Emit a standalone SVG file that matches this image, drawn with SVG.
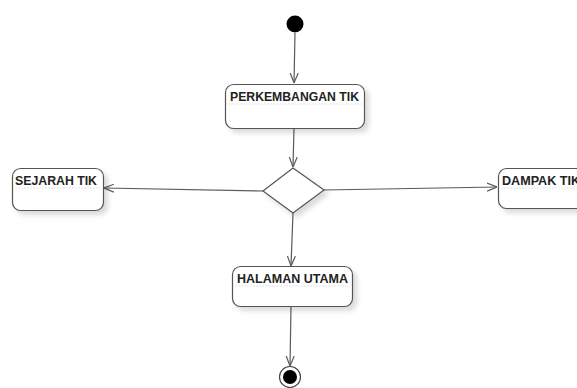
<svg xmlns="http://www.w3.org/2000/svg" width="577" height="388" viewBox="0 0 577 388">
  <style>
    .box { fill: #ffffff; stroke: #555555; stroke-width: 1.2; filter: url(#shadow); }
    .lbl { font-family: "Liberation Sans", Arial, sans-serif; font-size: 13.5px; font-weight: bold; fill: #222222; }
    .sep { stroke: #e4e4e4; stroke-width: 1; stroke-dasharray: 2 1; }
    .edge { fill: none; stroke: #5a5a5a; stroke-width: 1.2; marker-end: url(#open); }
    .dot { fill: #000000; }
  </style>
  <defs>
    <filter id="shadow" x="-20%" y="-20%" width="150%" height="160%">
      <feDropShadow dx="4" dy="4" stdDeviation="2.5" flood-color="#000000" flood-opacity="0.14"/>
    </filter>
    <marker id="open" viewBox="0 0 10 10" refX="10" refY="5" markerWidth="10" markerHeight="10" markerUnits="userSpaceOnUse" orient="auto">
      <path d="M0,1 L10,5 L0,9" fill="none" stroke="#5a5a5a" stroke-width="1.2"/>
    </marker>
  </defs>

  <g id="connectors">
    <line class="edge" x1="295" y1="33" x2="294" y2="83"/>
    <line class="edge" x1="294" y1="128" x2="293" y2="167"/>
    <line class="edge" x1="263" y1="191" x2="104" y2="188"/>
    <line class="edge" x1="324" y1="190" x2="497" y2="187"/>
    <line class="edge" x1="293" y1="213" x2="291" y2="266"/>
    <line class="edge" x1="291" y1="306" x2="290" y2="366"/>
  </g>

  <g id="start">
    <circle class="dot" cx="295" cy="24" r="8.5"/>
  </g>

  <g id="perkembangan">
    <rect class="box" x="225.5" y="84.5" width="139" height="44" rx="8"/>
    <line class="sep" x1="228" y1="104" x2="362" y2="104"/>
    <text class="lbl" x="230" y="100.5" textLength="129" lengthAdjust="spacingAndGlyphs">PERKEMBANGAN TIK</text>
  </g>

  <g id="decision">
    <polygon points="293,168 324,190 293,213 263,191" fill="#ffffff" stroke="#555555" stroke-width="1.2" filter="url(#shadow)"/>
  </g>

  <g id="sejarah">
    <rect class="box" x="12.5" y="168.5" width="91" height="42" rx="8"/>
    <line class="sep" x1="15" y1="188" x2="101" y2="188"/>
    <text class="lbl" x="15" y="184.5" textLength="82" lengthAdjust="spacingAndGlyphs">SEJARAH TIK</text>
  </g>

  <g id="dampak">
    <rect class="box" x="498.5" y="168.5" width="100" height="40" rx="8"/>
    <line class="sep" x1="501" y1="188" x2="577" y2="188"/>
    <text class="lbl" x="502" y="184.5" textLength="78" lengthAdjust="spacingAndGlyphs">DAMPAK TIK</text>
  </g>

  <g id="halaman">
    <rect class="box" x="232.5" y="266.5" width="120" height="40" rx="8"/>
    <line class="sep" x1="235" y1="286" x2="350" y2="286"/>
    <text class="lbl" x="237" y="282.5" textLength="111" lengthAdjust="spacingAndGlyphs">HALAMAN UTAMA</text>
  </g>

  <g id="end">
    <circle cx="290" cy="377" r="10.5" fill="#ffffff" stroke="#444444" stroke-width="1.2"/>
    <circle class="dot" cx="290" cy="377" r="7"/>
  </g>
</svg>
